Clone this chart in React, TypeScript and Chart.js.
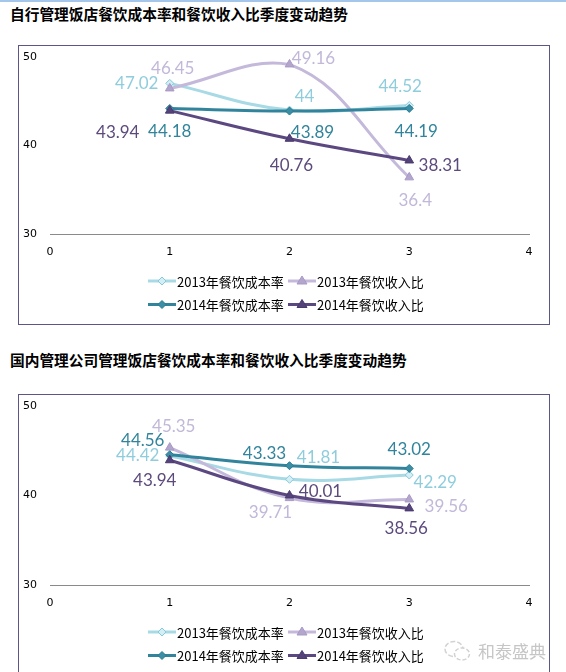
import { useEffect, useRef } from "react";
import { Chart, registerables } from "chart.js";

Chart.register(...registerables);

// quarters on the x axis
const quarters = [1, 2, 3];
const xTicks = [0, 1, 2, 3, 4];
const yTicks = [30, 40, 50];

const seriesNames = ["2013年餐饮成本率", "2013年餐饮收入比", "2014年餐饮成本率", "2014年餐饮收入比"];

// 自行管理饭店
const selfCost2013 = [47.02, 44, 44.52];
const selfIncome2013 = [46.45, 49.16, 36.4];
const selfCost2014 = [44.18, 43.89, 44.19];
const selfIncome2014 = [43.94, 40.76, 38.31];

// 国内管理公司管理饭店
const domCost2013 = [44.42, 41.81, 42.29];
const domIncome2013 = [45.35, 39.71, 39.56];
const domCost2014 = [44.56, 43.33, 43.02];
const domIncome2014 = [43.94, 40.01, 38.56];

const styles = [
  { line: "#a8dae5", pt: "rectRot", fill: "#d3eef4", edge: "#86c9d9", label: "#8fcddd", r: 4 },
  { line: "#c4b9da", pt: "triangle", fill: "#b3a6cd", edge: "#a999c6", label: "#c2b8d9", r: 5 },
  { line: "#31849b", pt: "rectRot", fill: "#3a8ea5", edge: "#2b7a90", label: "#31849b", r: 4 },
  { line: "#5b4881", pt: "triangle", fill: "#54437a", edge: "#4a3a6e", label: "#5d4a7d", r: 5 },
];

// label offsets from each point [dx, dy]
const selfLabelPos = [
  [[-33, 0], [15, -14], [-9, -19]],
  [[3, -20], [24, -6], [6, 23]],
  [[0, 23], [23, 21], [7, 23]],
  [[-52, 22], [2, 27], [31, 5]],
];
const domLabelPos = [
  [[-32, 0], [29, -22], [26, 8]],
  [[4, -21], [-19, 14], [37, 7]],
  [[-27, -14], [-25, -12], [0, -19]],
  [[-15, 20], [31, -4], [-3, 20]],
];

const tickFont = { family: "'DejaVu Sans', sans-serif", size: 11 };

function TrendChart({ series, labelPos, height, top, bottom }: {
  series: number[][];
  labelPos: number[][][];
  height: number;
  top: number;
  bottom: number;
}) {
  const canvasRef = useRef<HTMLCanvasElement | null>(null);

  useEffect(() => {
    if (!canvasRef.current) return;

    const labelsPlugin = {
      id: "pointLabels",
      afterDatasetsDraw(chart: Chart) {
        const ctx = chart.ctx;
        ctx.save();
        ctx.font = "17px Lato, 'Open Sans', sans-serif";
        ctx.textAlign = "center";
        ctx.textBaseline = "middle";
        series.forEach((vals, i) => {
          const meta = chart.getDatasetMeta(i);
          meta.data.forEach((pt, j) => {
            const [dx, dy] = labelPos[i][j];
            ctx.fillStyle = styles[i].label;
            ctx.fillText(String(vals[j]), pt.x + dx, pt.y + dy);
          });
        });
        ctx.restore();
      },
    };

    const legendPlugin = {
      id: "twoRowLegend",
      afterDraw(chart: Chart) {
        const ctx = chart.ctx;
        const base = chart.chartArea.bottom;
        const rows = [base + 47, base + 70.5];
        const cols = [129, 269];
        ctx.save();
        ctx.font = "13px 'Noto Sans CJK SC', sans-serif";
        ctx.textBaseline = "middle";
        ctx.textAlign = "left";
        seriesNames.forEach((name, i) => {
          const s = styles[i];
          const y = rows[Math.floor(i / 2)];
          const x = cols[i % 2];
          ctx.strokeStyle = s.line;
          ctx.lineWidth = 3;
          ctx.beginPath();
          ctx.moveTo(x, y);
          ctx.lineTo(x + 28, y);
          ctx.stroke();
          ctx.fillStyle = s.fill;
          ctx.strokeStyle = s.edge;
          ctx.lineWidth = 1;
          ctx.beginPath();
          const cx = x + 14;
          if (s.pt === "rectRot") {
            ctx.moveTo(cx, y - 4);
            ctx.lineTo(cx + 4, y);
            ctx.lineTo(cx, y + 4);
            ctx.lineTo(cx - 4, y);
          } else {
            ctx.moveTo(cx, y - 5);
            ctx.lineTo(cx + 5, y + 3);
            ctx.lineTo(cx - 5, y + 3);
          }
          ctx.closePath();
          ctx.fill();
          ctx.stroke();
          ctx.fillStyle = "#000";
          ctx.fillText(name, x + 29, y + 1);
        });
        ctx.restore();
      },
    };

    const chart = new Chart(canvasRef.current, {
      type: "line",
      data: {
        datasets: series.map((vals, i) => ({
          label: seriesNames[i],
          data: vals.map((v, j) => ({ x: quarters[j], y: v })),
          borderColor: styles[i].line,
          borderWidth: 3,
          tension: 0.4,
          pointStyle: styles[i].pt as any,
          pointRadius: styles[i].r,
          pointBackgroundColor: styles[i].fill,
          pointBorderColor: styles[i].edge,
          pointBorderWidth: 1,
          order: 4 - i,
        })),
      },
      options: {
        animation: false,
        responsive: false,
        maintainAspectRatio: false,
        layout: { padding: { left: 4, right: 20, top, bottom } },
        plugins: { legend: { display: false }, tooltip: { enabled: false } },
        scales: {
          x: {
            type: "linear",
            min: 0,
            max: 4,
            afterBuildTicks: (s) => {
              s.ticks = xTicks.map((v) => ({ value: v }));
            },
            afterFit: (s) => {
              s.height = 25;
            },
            grid: { display: false, drawTicks: false },
            border: { display: true, color: "#8a8a8a", width: 1 },
            ticks: { font: tickFont, color: "#000", padding: 12 },
          },
          y: {
            min: 30,
            max: 50,
            afterBuildTicks: (s) => {
              s.ticks = yTicks.map((v) => ({ value: v }));
            },
            afterFit: (s) => {
              s.width = 27;
            },
            grid: { display: false, drawTicks: false },
            border: { display: false },
            ticks: { font: tickFont, color: "#000", padding: 0, crossAlign: "far" },
          },
        },
      },
      plugins: [labelsPlugin, legendPlugin],
    });

    return () => chart.destroy();
  }, [series, labelPos, top, bottom]);

  return (
    <canvas
      ref={canvasRef}
      width={530}
      height={height}
      style={{ display: "block", width: 530, height }}
    />
  );
}

const titleStyle: React.CSSProperties = {
  position: "absolute",
  left: 10,
  fontFamily: "'Noto Sans CJK SC', sans-serif",
  fontWeight: "bold",
  fontSize: 14.7,
  lineHeight: "18px",
  color: "#000",
  whiteSpace: "nowrap",
};

const boxStyle: React.CSSProperties = {
  position: "absolute",
  left: 18,
  width: 530,
  border: "1px solid #5b5686",
  background: "#fff",
};

const selfSeries = [selfCost2013, selfIncome2013, selfCost2014, selfIncome2014];
const domSeries = [domCost2013, domIncome2013, domCost2014, domIncome2014];

export default function App() {
  useEffect(() => {
    document.body.style.margin = "0";
  }, []);

  return (
    <div style={{ position: "relative", width: 566, height: 672, overflow: "hidden", background: "#fff" }}>
      <div style={{ position: "absolute", left: 0, top: 0, width: 566, height: 2, background: "#a3c6ea" }} />
      <div style={{ ...titleStyle, top: 5 }}>自行管理饭店餐饮成本率和餐饮收入比季度变动趋势</div>
      <div style={{ ...boxStyle, top: 45, height: 278 }}>
        <TrendChart series={selfSeries} labelPos={selfLabelPos} height={278} top={11} bottom={65} />
      </div>
      <div style={{ ...titleStyle, top: 351 }}>国内管理公司管理饭店餐饮成本率和餐饮收入比季度变动趋势</div>
      <div style={{ ...boxStyle, top: 394, height: 290 }}>
        <TrendChart series={domSeries} labelPos={domLabelPos} height={290} top={11} bottom={75} />
      </div>
      <div style={{ position: "absolute", left: 443, top: 638, display: "flex", alignItems: "center", color: "#c6c6c6" }}>
        <svg width="30" height="24" viewBox="0 0 30 24">
          <ellipse cx="11" cy="10" rx="9" ry="7.5" fill="none" stroke="#d2d2d2" strokeWidth="1.5" strokeDasharray="5 2" />
          <ellipse cx="19" cy="15" rx="7.5" ry="6" fill="#fff" stroke="#d2d2d2" strokeWidth="1.5" strokeDasharray="4 2" />
        </svg>
        <span style={{ fontFamily: "'Noto Sans CJK SC', sans-serif", fontSize: 17, marginLeft: 5 }}>和泰盛典</span>
      </div>
    </div>
  );
}
